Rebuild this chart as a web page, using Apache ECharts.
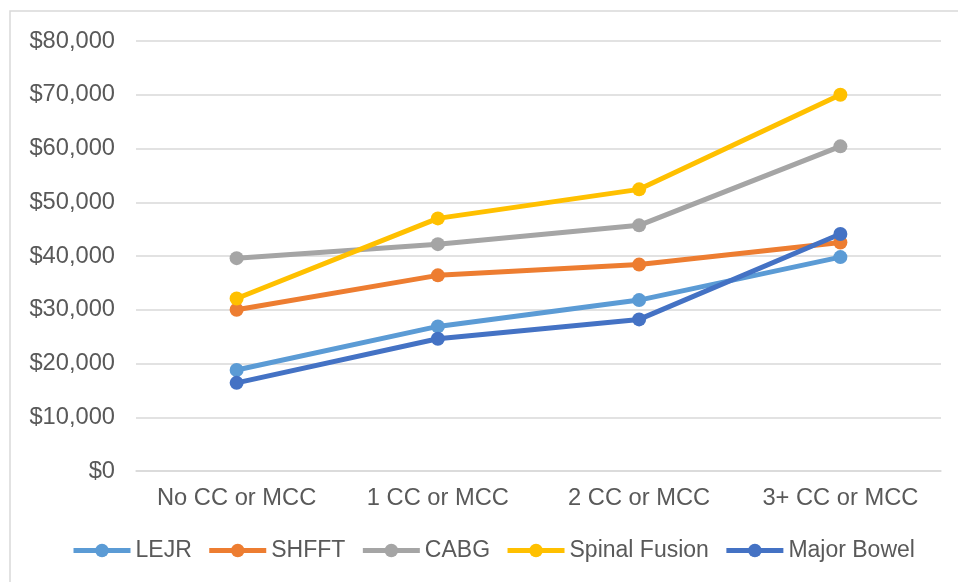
<!DOCTYPE html>
<html>
<head>
<meta charset="utf-8">
<script src="https://cdn.jsdelivr.net/npm/echarts@6/dist/echarts.min.js"></script>
<style>
html,body{margin:0;padding:0;background:#fff;}
#chart{width:958px;height:582px;}
</style>
</head>
<body>
<div id="chart"></div>
<script>
const categories = ['No CC or MCC', '1 CC or MCC', '2 CC or MCC', '3+ CC or MCC'];
const seriesNames = ['LEJR', 'SHFFT', 'CABG', 'Spinal Fusion', 'Major Bowel'];
const lejr = [18800, 26900, 31800, 39800];
const shfft = [30000, 36400, 38400, 42500];
const cabg = [39600, 42200, 45700, 60400];
const spinalFusion = [32100, 47000, 52400, 70000];
const majorBowel = [16400, 24600, 28200, 44100];
const colors = ['#5B9BD5', '#ED7D31', '#A5A5A5', '#FFC000', '#4472C4'];
const yMin = 0, yMax = 80000, yStep = 10000;

const allData = [lejr, shfft, cabg, spinalFusion, majorBowel];
const font = '"Liberation Sans", Arial, sans-serif';
const textColor = '#595959';
const fs = 23.7;

const chart = echarts.init(document.getElementById('chart'), null, {renderer: 'canvas'});
chart.setOption({
  animation: false,
  backgroundColor: '#fff',
  color: colors,
  graphic: [{
    type: 'rect',
    shape: {x: 10, y: 11, width: 980, height: 600},
    style: {fill: 'none', stroke: '#D9D9D9', lineWidth: 1.5},
    silent: true,
    z: -1
  }],
  grid: {left: 136, right: 17, top: 41, bottom: 111, containLabel: false},
  legend: {
    left: 66,
    top: 534,
    itemWidth: 57,
    itemHeight: 17,
    itemGap: 15,
    lineStyle: {width: 5},
    textStyle: {fontFamily: font, fontSize: 23, color: textColor},
    data: seriesNames
  },
  xAxis: {
    type: 'category',
    data: categories,
    boundaryGap: true,
    axisLine: {show: true, lineStyle: {color: '#D9D9D9', width: 1.5}},
    axisTick: {show: false},
    axisLabel: {fontFamily: font, fontSize: fs, color: textColor, margin: 15, interval: 0, hideOverlap: false}
  },
  yAxis: {
    type: 'value',
    min: yMin,
    max: yMax,
    interval: yStep,
    axisLine: {show: false},
    axisTick: {show: false},
    splitLine: {lineStyle: {color: '#D9D9D9', width: 1.5}},
    axisLabel: {
      fontFamily: font, fontSize: fs, color: textColor, margin: 21,
      formatter: v => '$' + v.toLocaleString('en-US')
    }
  },
  series: seriesNames.map((name, i) => ({
    name: name,
    type: 'line',
    data: allData[i],
    symbol: 'circle',
    symbolSize: 14,
    lineStyle: {width: 5, color: colors[i]},
    itemStyle: {color: colors[i]}
  }))
});
</script>
</body>
</html>
